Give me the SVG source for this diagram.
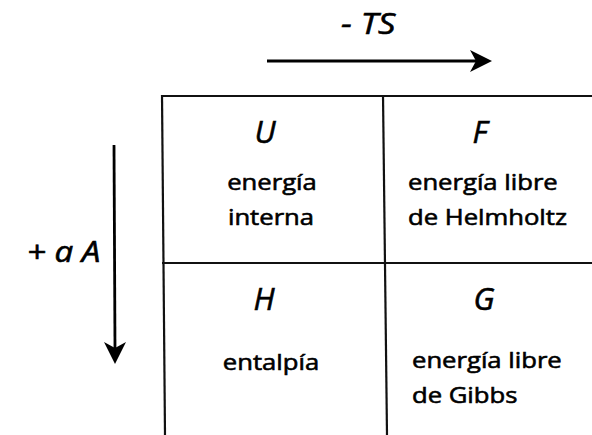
<svg xmlns="http://www.w3.org/2000/svg" width="592" height="435" viewBox="0 0 592 435">
<style>
.ln{stroke:#111;stroke-width:2.2;fill:none}
.ar{stroke:#000;stroke-width:2.8;fill:none}
.hd{fill:#000}
.t{font-family:"Open Sans","Noto Sans","DejaVu Sans",sans-serif;font-size:22.5px;fill:#000;stroke:#000;stroke-width:0.6}
.c{font-family:"Open Sans","Noto Sans","DejaVu Sans",sans-serif;font-style:italic;font-size:31px;fill:#000;stroke:#000;stroke-width:0.6}
.m{text-anchor:middle}
</style>
<rect width="592" height="435" fill="#fff"/>
<g id="table">
<line class="ln" x1="161" y1="96" x2="592" y2="96"/>
<line class="ln" x1="162" y1="263" x2="592" y2="263"/>
<line class="ln" x1="162" y1="95" x2="165" y2="435"/>
<line class="ln" x1="383" y1="95" x2="387" y2="435"/>
</g>
<g id="connectors">
<line class="ar" x1="267" y1="61" x2="476" y2="61"/>
<polygon class="hd" points="492,61 470,50 476,61 470,72"/>
<line class="ar" x1="114" y1="145" x2="115" y2="348"/>
<polygon class="hd" points="115,364 104,342 115,348 126,342"/>
</g>
<g id="label-TS">
<text class="c" transform="translate(341,34) scale(1.15,1)" style="font-size:30px">- TS</text>
</g>
<g id="label-aA">
<text class="c" transform="translate(27,262) scale(1.14,1)" style="font-size:29px">+ a A</text>
</g>
<g id="cell-U">
<text class="c m" x="265" y="143">U</text>
<text class="t m" transform="translate(272,190) scale(1.14,1)">energía</text>
<text class="t m" transform="translate(271,225) scale(1.14,1)">interna</text>
</g>
<g id="cell-F">
<text class="c m" x="480" y="143">F</text>
<text class="t" transform="translate(408,190) scale(1.14,1)">energía libre</text>
<text class="t" transform="translate(408,225) scale(1.14,1)">de Helmholtz</text>
</g>
<g id="cell-H">
<text class="c m" x="264" y="310">H</text>
<text class="t m" transform="translate(271,370) scale(1.14,1)">entalpía</text>
</g>
<g id="cell-G">
<text class="c m" x="484" y="310">G</text>
<text class="t" transform="translate(412,368) scale(1.14,1)">energía libre</text>
<text class="t" transform="translate(412,403) scale(1.14,1)">de Gibbs</text>
</g>
</svg>
